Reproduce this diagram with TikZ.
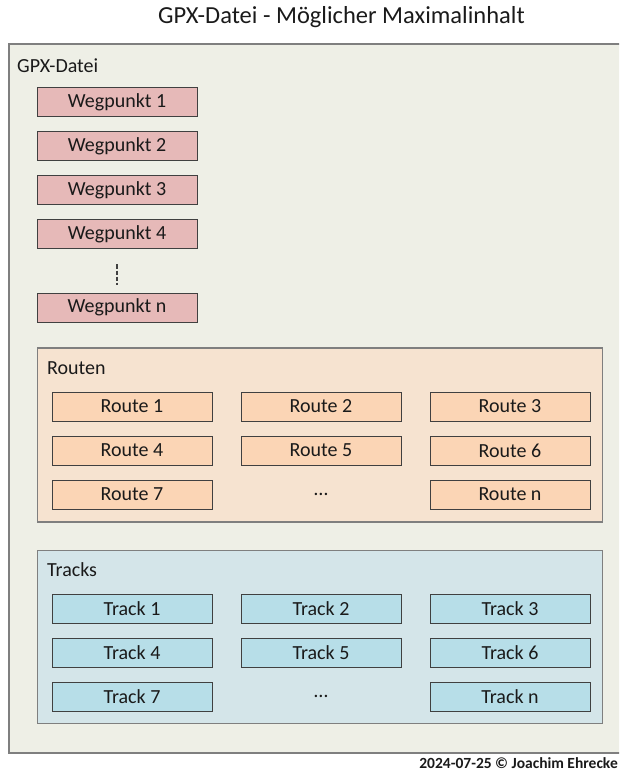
\documentclass[tikz,border=0pt]{standalone}
\usepackage{fontspec}
\setmainfont{Carlito}
\usepackage{xcolor}
\definecolor{frameback}{HTML}{EEEFE6}
\definecolor{frameline}{HTML}{7F7F7F}
\definecolor{boxline}{HTML}{404040}
\definecolor{wpfill}{HTML}{E6B9B8}
\definecolor{rtback}{HTML}{F6E3D0}
\definecolor{rtfill}{HTML}{FBD5B5}
\definecolor{trback}{HTML}{D4E5E9}
\definecolor{trfill}{HTML}{B7DEE8}
\definecolor{ink}{HTML}{1A1A1A}
\usepackage{tikz}
\usetikzlibrary{positioning}

\begin{document}
\begin{tikzpicture}[
  x=1pt,y=-1pt,
  node distance=14pt,
  every node/.style={text=ink,font=\fontsize{20}{22}\selectfont},
  grp/.style={draw=frameline,line width=1.5pt,rectangle,inner sep=0pt},
  bx/.style={draw=boxline,line width=1pt,rectangle,inner sep=0pt,minimum width=160pt,minimum height=29pt},
  wp/.style={bx,fill=wpfill},
  rt/.style={bx,fill=rtfill},
  tr/.style={bx,fill=trfill},
  lbl/.style={anchor=west,inner sep=0pt}
]
\useasboundingbox (0,0) rectangle (619,775);
\clip (0,0) rectangle (619,775);
\node[font=\fontsize{24.5}{26}\selectfont] (title) at (341.5,17) {GPX-Datei - Möglicher Maximalinhalt};
\node[grp,line width=2pt,fill=frameback,minimum width=691pt,minimum height=709pt] (gpx) at (354.5,398.5) {};
\node[lbl] (gpxl) at (17,66) {GPX-Datei};
% Wegpunkte
\node[wp] (w1) at (117,102.5) {Wegpunkt 1};
\node[wp,below=of w1] (w2) {Wegpunkt 2};
\node[wp,below=of w2] (w3) {Wegpunkt 3};
\node[wp,below=of w3] (w4) {Wegpunkt 4};
\node[wp,below=43pt of w4] (wn) {Wegpunkt n};
\draw[boxline,line width=1.1pt,dash pattern=on 4pt off 2pt,shorten <=15pt,shorten >=8pt] (w4) -- (wn);
% Routen
\node[grp,fill=rtback,minimum width=565pt,minimum height=174pt] (routen) at (320,435) {};
\node[lbl] (routenl) at (47,368) {Routen};
\node[rt] (r1) at (132,406.5) {Route 1};
\node[rt,right=28pt of r1] (r2) {Route 2};
\node[rt,right=28pt of r2] (r3) {Route 3};
\node[rt,below=of r1] (r4) {Route 4};
\node[rt,below=of r2] (r5) {Route 5};
\node[rt,below=of r3] (r6) {Route 6};
\node[rt,below=of r4] (r7) {Route 7};
\node[below=of r5,minimum height=29pt,inner sep=0pt] (rdots) {\dots};
\node[rt,below=of r6] (rn) {Route n};
% Tracks
\node[grp,fill=trback,minimum width=565pt,minimum height=173pt] (tracks) at (320,637) {};
\node[lbl] (tracksl) at (47,570) {Tracks};
\node[tr] (t1) at (132,608.5) {Track 1};
\node[tr,right=28pt of t1] (t2) {Track 2};
\node[tr,right=28pt of t2] (t3) {Track 3};
\node[tr,below=of t1] (t4) {Track 4};
\node[tr,below=of t2] (t5) {Track 5};
\node[tr,below=of t3] (t6) {Track 6};
\node[tr,below=of t4] (t7) {Track 7};
\node[below=of t5,minimum height=29pt,inner sep=0pt] (tdots) {\dots};
\node[tr,below=of t6] (tn) {Track n};
\node[anchor=east,inner sep=0pt,font=\bfseries\fontsize{15.5}{17}\selectfont] (foot) at (618,763) {2024-07-25 © Joachim Ehrecke};
\end{tikzpicture}
\end{document}
